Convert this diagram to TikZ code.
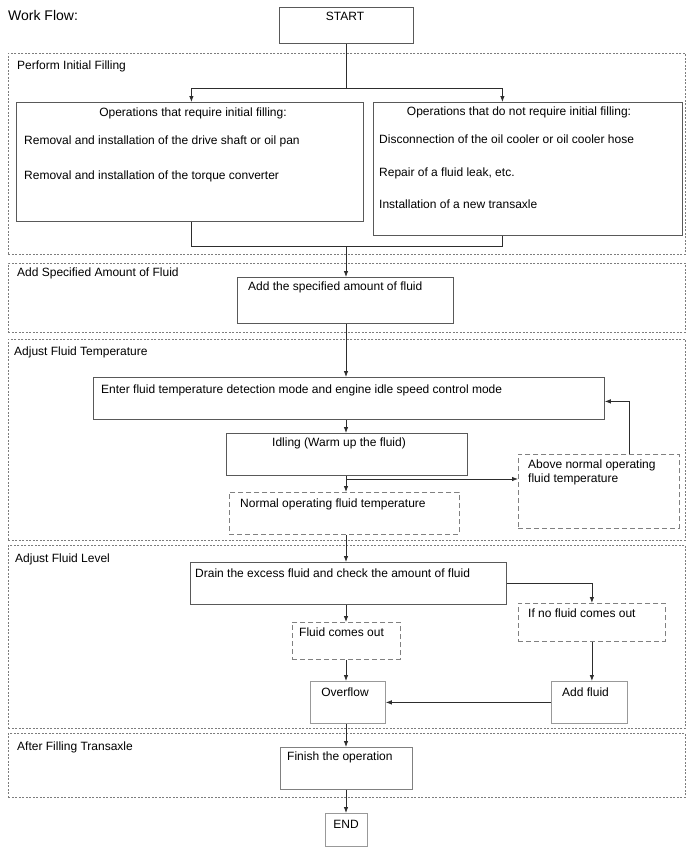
\documentclass[tikz,border=0pt]{standalone}
\usepackage{fontspec}
\setmainfont{Liberation Sans}
\usetikzlibrary{arrows.meta}
\definecolor{wfline}{RGB}{45,45,45}
\definecolor{wfframe}{RGB}{125,125,125}

\begin{document}
\begin{tikzpicture}[x=1pt,y=-1pt,
  box/.style={draw=black!65,line width=0.8pt,anchor=north west,inner sep=0pt},
  lightbox/.style={box,draw=black!40},
  maybe/.style={box,draw=black!50,dash pattern=on 5pt off 3pt},
  stage/.style={box,draw=wfframe,line width=0.6pt,dash pattern=on 2pt off 1.5pt},
  txt/.style={font=\fontsize{12}{14}\selectfont,inner sep=0pt,anchor=base west},
  ctxt/.style={txt,anchor=base},
  flow/.style={draw=wfline,line width=0.8pt,-{Latex[length=6pt,width=4.5pt]}},
  link/.style={draw=wfline,line width=0.8pt}]

\useasboundingbox (0,0) rectangle (688,852);

%stages
\node[stage,minimum width=677,minimum height=201] (fill) at (8,53) {};
\node[stage,minimum width=677,minimum height=69] (amount) at (8,263) {};
\node[stage,minimum width=677,minimum height=201] (temp) at (8,339) {};
\node[stage,minimum width=677,minimum height=183] (level) at (8,545) {};
\node[stage,minimum width=677,minimum height=64] (after) at (8,733) {};

\node[txt,font=\fontsize{14}{16}\selectfont] (title) at (8,20) {Work Flow:};
\node[txt] (filllbl) at (17,69.5) {Perform Initial Filling};
\node[txt] (amountlbl) at (17,276) {Add Specified Amount of Fluid};
\node[txt] (templbl) at (14,355) {Adjust Fluid Temperature};
\node[txt] (levellbl) at (15,562) {Adjust Fluid Level};
\node[txt] (afterlbl) at (17,750) {After Filling Transaxle};

%boxes
\node[box,minimum width=134,minimum height=36] (start) at (279,7) {};
\node[box,minimum width=347,minimum height=119] (req) at (16,102) {};
\node[box,minimum width=309,minimum height=133] (noreq) at (373,102) {};
\node[box,minimum width=216,minimum height=46] (add) at (237,277) {};
\node[box,minimum width=511,minimum height=42] (enter) at (93,377) {};
\node[box,minimum width=241,minimum height=42] (idle) at (226,433) {};
\node[maybe,minimum width=230,minimum height=42] (normal) at (229,492) {};
\node[maybe,minimum width=161,minimum height=74] (above) at (518,454) {};
\node[box,minimum width=316,minimum height=42] (drain) at (190,562) {};
\node[maybe,minimum width=147,minimum height=38] (ifno) at (518,603) {};
\node[maybe,minimum width=108,minimum height=37] (fluid) at (292,622) {};
\node[lightbox,minimum width=75,minimum height=42] (overflow) at (310,681) {};
\node[lightbox,minimum width=76,minimum height=42] (addfl) at (551,681) {};
\node[box,draw=black!50,minimum width=132,minimum height=42] (finish) at (280,747) {};
\node[lightbox,minimum width=42,minimum height=33] (stop) at (325,813) {};

%texts
\node[ctxt] (starttxt) at (345,20.5) {START};
\node[ctxt] (reqtxt) at (193,116) {Operations that require initial filling:};
\node[txt] (reqa) at (24,144) {Removal and installation of the drive shaft or oil pan};
\node[txt] (reqb) at (24,179) {Removal and installation of the torque converter};
\node[ctxt] (noreqtxt) at (519,115) {Operations that do not require initial filling:};
\node[txt] (noreqa) at (379,143) {Disconnection of the oil cooler or oil cooler hose};
\node[txt] (noreqb) at (379,176) {Repair of a fluid leak, etc.};
\node[txt] (noreqc) at (379,208) {Installation of a new transaxle};
\node[txt] (addtxt) at (248,290) {Add the specified amount of fluid};
\node[txt] (entertxt) at (101,393) {Enter fluid temperature detection mode and engine idle speed control mode};
\node[txt] (idletxt) at (272,446) {Idling (Warm up the fluid)};
\node[txt] (normaltxt) at (240,507) {Normal operating fluid temperature};
\node[txt] (abovetxta) at (528,468) {Above normal operating};
\node[txt] (abovetxtb) at (528,482) {fluid temperature};
\node[txt] (draintxt) at (195,577) {Drain the excess fluid and check the amount of fluid};
\node[txt] (ifnotxt) at (528,617) {If no fluid comes out};
\node[txt] (fluidtxt) at (299,636) {Fluid comes out};
\node[ctxt] (overflowtxt) at (345,696) {Overflow};
\node[txt] (addfltxt) at (562,696) {Add fluid};
\node[txt] (finishtxt) at (287,760) {Finish the operation};
\node[ctxt] (stoptxt) at (346,828) {END};

%connectors
\coordinate (spine) at (346,0);
\coordinate (split) at (346,88);
\coordinate (merge) at (346,246);
\coordinate (branch) at (346,479);
\draw[link] (spine |- start.south) -- (split);
\draw[flow] (split) -| ([xshift=1.5pt]req.north);
\draw[flow] (split) -| ([xshift=-25.5pt]noreq.north);
\draw[link] ([xshift=1.5pt]req.south) |- (merge);
\draw[link] ([xshift=-25.5pt]noreq.south) |- (merge);
\draw[flow] (merge) -- (spine |- add.north);
\draw[flow] (spine |- add.south) -- (spine |- enter.north);
\draw[flow] (spine |- enter.south) -- (spine |- idle.north);
\draw[flow] (spine |- idle.south) -- (spine |- normal.north);
\draw[flow] (branch) -- (branch -| above.west);
\draw[flow] ([xshift=30.5pt]above.north) |- ([yshift=-3pt]enter.east);
\draw[flow] (spine |- normal.south) -- (spine |- drain.north);
\draw[flow] (drain.east) -| (ifno.north);
\draw[flow] (spine |- drain.south) -- (spine |- fluid.north);
\draw[flow] (spine |- fluid.south) -- (spine |- overflow.north);
\draw[flow] (ifno.south) -- (ifno.south |- addfl.north);
\draw[flow] (addfl.west) -- (addfl.west -| overflow.east);
\draw[flow] (spine |- overflow.south) -- (spine |- finish.north);
\draw[flow] (spine |- finish.south) -- (spine |- stop.north);

\end{tikzpicture}
\end{document}
